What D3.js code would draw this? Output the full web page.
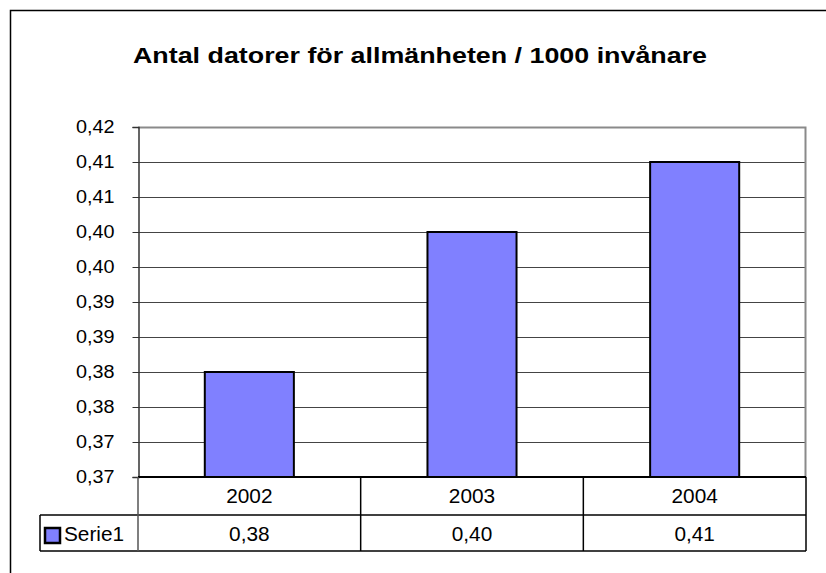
<!DOCTYPE html>
<html>
<head>
<meta charset="utf-8">
<script src="https://d3js.org/d3.v7.min.js"></script>
<style>
  body { margin: 0; background: #fff; }
  text { font-family: "Liberation Sans", Arial, sans-serif; }
</style>
</head>
<body>
<script>
  var width = 826
  var height = 573

  var years = ["2002", "2003", "2004"]
  var serie1 = [0.38, 0.40, 0.41]
  var seriesName = "Serie1"
  var tickValues = [0.365, 0.37, 0.375, 0.38, 0.385, 0.39, 0.395, 0.40, 0.405, 0.41, 0.415]
  var tickLabels = ["0,37", "0,37", "0,38", "0,38", "0,39", "0,39", "0,40", "0,40", "0,41", "0,41", "0,42"]
  var valueLabels = ["0,38", "0,40", "0,41"]

  var plot = { left: 138, right: 806, top: 127, bottom: 477 }
  var rowH = [38, 36]

  // excel stretches the text a bit wider than the font itself
  function stretch(sel, k) {
    sel.each(function() {
      var w = this.getComputedTextLength()
      d3.select(this).attr("textLength", w * k).attr("lengthAdjust", "spacingAndGlyphs")
    })
  }

  var svg = d3.select("body").append("svg")
      .attr("width", width)
      .attr("height", height)

  // outer chart border (runs off the right/bottom of the picture)
  svg.append("rect")
      .attr("x", 10.5).attr("y", 10.5)
      .attr("width", 840).attr("height", 600)
      .attr("fill", "#fff").attr("stroke", "#000").attr("stroke-width", 1.5)

  var title = svg.append("text")
      .attr("x", 420).attr("y", 63)
      .attr("text-anchor", "middle")
      .attr("font-size", 22).attr("font-weight", "bold")
      .text("Antal datorer för allmänheten / 1000 invånare")
  title.attr("textLength", 574).attr("lengthAdjust", "spacingAndGlyphs")

  var x = d3.scaleBand()
      .domain(years)
      .range([plot.left, plot.right])
      .paddingInner(0).paddingOuter(0)

  var y = d3.scaleLinear()
      .domain([0.365, 0.415])
      .range([plot.bottom, plot.top])

  // gridlines
  svg.append("g").selectAll("line")
      .data(tickValues.slice(1, -1))
      .enter().append("line")
      .attr("x1", plot.left).attr("x2", plot.right)
      .attr("y1", function(d) { return Math.round(y(d)) + 0.5 })
      .attr("y2", function(d) { return Math.round(y(d)) + 0.5 })
      .attr("stroke", "#444").attr("stroke-width", 1)

  // plot frame top / right
  svg.append("path")
      .attr("d", "M" + plot.left + "," + (plot.top + 0.5) + "H" + (plot.right - 0.5) + "V" + plot.bottom)
      .attr("fill", "none").attr("stroke", "#8a8a8a").attr("stroke-width", 2)

  // bars
  var barW = x.bandwidth() * 0.4
  svg.append("g").selectAll("rect")
      .data(serie1)
      .enter().append("rect")
      .attr("x", function(d, i) { return x(years[i]) + (x.bandwidth() - barW) / 2 })
      .attr("y", function(d) { return y(d) })
      .attr("width", barW)
      .attr("height", function(d) { return y(0.365) - y(d) })
      .attr("fill", "#8080ff").attr("stroke", "#000").attr("stroke-width", 2)

  // y axis
  var yAxis = d3.axisLeft(y)
      .tickValues(tickValues)
      .tickFormat(function(d, i) { return tickLabels[i] })
      .tickSize(6).tickPadding(18)
  var ya = svg.append("g")
      .attr("transform", "translate(" + (plot.left + 0.5) + ",0)")
      .call(yAxis)
  ya.select(".domain").attr("stroke", "#333").attr("stroke-width", 1.5)
  ya.selectAll(".tick line").attr("stroke", "#333")
  ya.selectAll("text").attr("font-size", 18).attr("fill", "#000")
      .style("font-family", "'Liberation Sans', Arial, sans-serif")
  ya.call(function(g) { stretch(g.selectAll("text"), 1.1) })

  // data table
  var t0 = plot.bottom, t1 = t0 + rowH[0], t2 = t1 + rowH[1]
  var tableLeft = 40
  var tbl = svg.append("g").attr("stroke", "#000").attr("stroke-width", 1.5)
  tbl.append("line").attr("x1", plot.left).attr("x2", plot.right).attr("y1", t0).attr("y2", t0).attr("stroke-width", 2)
  tbl.append("line").attr("x1", tableLeft).attr("x2", plot.right).attr("y1", t1).attr("y2", t1)
  tbl.append("line").attr("x1", tableLeft).attr("x2", plot.right).attr("y1", t2).attr("y2", t2)
  tbl.append("line").attr("x1", tableLeft).attr("x2", tableLeft).attr("y1", t1).attr("y2", t2)
  tbl.selectAll(".vline")
      .data(years.concat(["end"]))
      .enter().append("line")
      .attr("class", "vline")
      .attr("x1", function(d, i) { return i < years.length ? x(d) : plot.right })
      .attr("x2", function(d, i) { return i < years.length ? x(d) : plot.right })
      .attr("y1", t0).attr("y2", t2)
      .attr("stroke", function(d, i) { return i == 0 ? "#555" : "#000" })

  var cats = svg.append("g").selectAll("text")
      .data(years)
      .enter().append("text")
      .attr("x", function(d) { return x(d) + x.bandwidth() / 2 })
      .attr("y", 503)
      .attr("text-anchor", "middle")
      .attr("font-size", 20)
      .text(function(d) { return d })
  stretch(cats, 1.04)

  var vals = svg.append("g").selectAll("text")
      .data(valueLabels)
      .enter().append("text")
      .attr("x", function(d, i) { return x(years[i]) + x.bandwidth() / 2 })
      .attr("y", 541)
      .attr("text-anchor", "middle")
      .attr("font-size", 20)
      .text(function(d) { return d })
  stretch(vals, 1.04)

  // legend key + series name
  svg.append("rect")
      .attr("x", 45).attr("y", 528)
      .attr("width", 15).attr("height", 15)
      .attr("fill", "#8080ff").attr("stroke", "#000").attr("stroke-width", 2.5)
  var sname = svg.append("text")
      .attr("x", 64).attr("y", 541)
      .attr("font-size", 20)
      .text(seriesName)
  stretch(sname, 1.04)
</script>
</body>
</html>
